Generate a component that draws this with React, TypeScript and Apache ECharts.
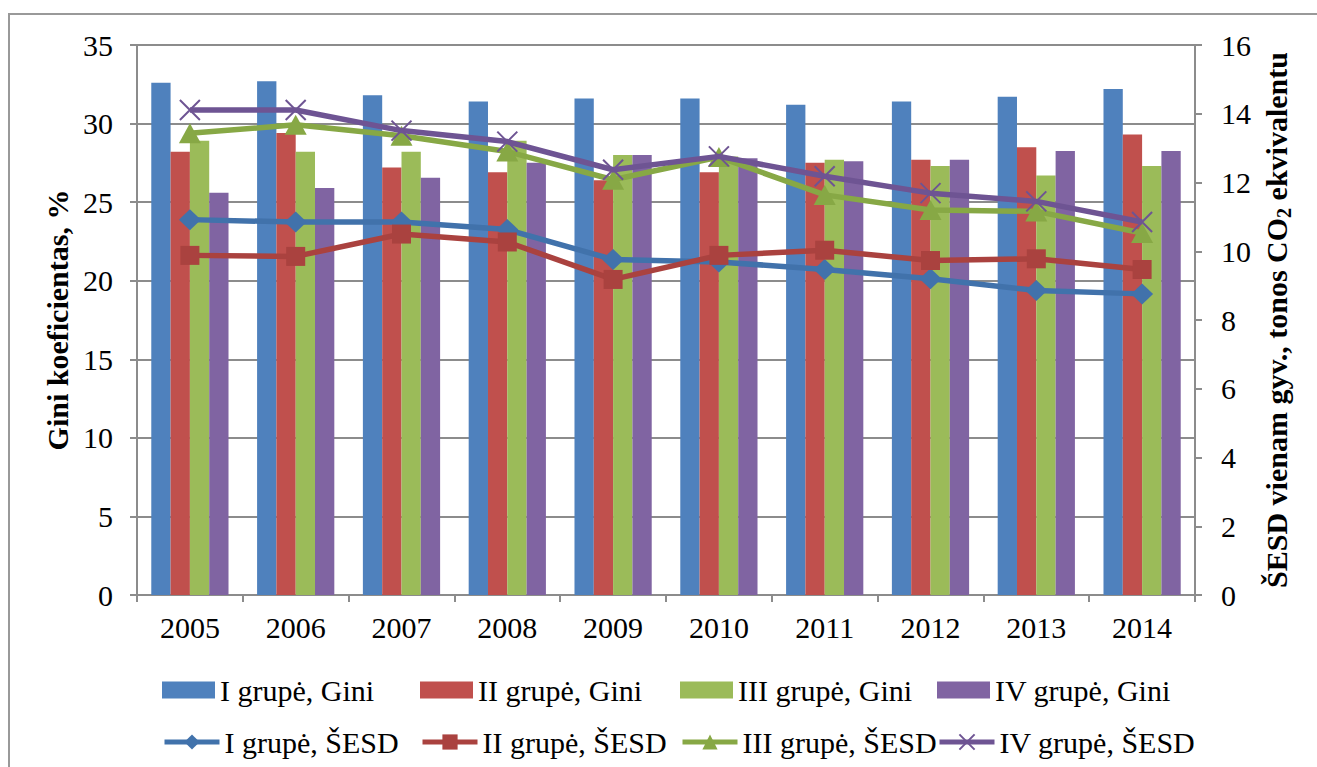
import React, { useEffect, useRef } from "react";
import * as echarts from "echarts";

const years = ["2005", "2006", "2007", "2008", "2009", "2010", "2011", "2012", "2013", "2014"];
const gini1 = [32.6, 32.7, 31.8, 31.4, 31.6, 31.6, 31.2, 31.4, 31.7, 32.2];
const gini2 = [28.2, 29.4, 27.2, 26.9, 26.4, 26.9, 27.5, 27.7, 28.5, 29.3];
const gini3 = [28.9, 28.2, 28.2, 28.9, 28.0, 27.9, 27.7, 27.3, 26.7, 27.3];
const gini4 = [25.6, 25.9, 26.55, 27.5, 28.0, 27.8, 27.6, 27.7, 28.25, 28.25];
const sesd1 = [10.92, 10.85, 10.85, 10.63, 9.76, 9.69, 9.47, 9.2, 8.86, 8.76];
const sesd2 = [9.88, 9.85, 10.5, 10.27, 9.18, 9.88, 10.03, 9.73, 9.78, 9.47];
const sesd3 = [13.43, 13.68, 13.36, 12.9, 12.08, 12.74, 11.64, 11.2, 11.16, 10.53];
const sesd4 = [14.11, 14.11, 13.51, 13.19, 12.37, 12.76, 12.18, 11.69, 11.45, 10.85];

const barNames = ["I grupė, Gini", "II grupė, Gini", "III grupė, Gini", "IV grupė, Gini"];
const lineNames = ["I grupė, ŠESD", "II grupė, ŠESD", "III grupė, ŠESD", "IV grupė, ŠESD"];

const FONT = "'Liberation Serif', 'Times New Roman', serif";
const GRAY = "#8c8c8c";

export default function App() {
  const ref = useRef<HTMLDivElement>(null);
  useEffect(() => {
    if (!ref.current) return;
    const chart = echarts.init(ref.current, null, { renderer: "svg" });
    const barColors = ["#4F81BD", "#C0504D", "#9BBB59", "#8064A2"];
    const lineColors = ["#4172AB", "#AA423F", "#87A845", "#6E5493"];
    const ginis = [gini1, gini2, gini3, gini4];
    const sesds = [sesd1, sesd2, sesd3, sesd4];
    const symbols = ["diamond", "rect", "triangle", "path://M0,0L10,10M10,0L0,10"];
    const symSizes: any[] = [[22, 21], 19, [22, 20], 20];
    const legendLeft = [162, 420, 680, 937];

    const series: any[] = [];
    ginis.forEach((d, i) => {
      series.push({
        name: barNames[i],
        type: "bar",
        yAxisIndex: 0,
        data: d,
        barGap: "0%",
        barCategoryGap: "27%",
        itemStyle: { color: barColors[i] },
      });
    });
    sesds.forEach((d, i) => {
      series.push({
        name: lineNames[i],
        type: "line",
        yAxisIndex: 1,
        data: d,
        z: 3 + i,
        symbol: symbols[i],
        symbolSize: symSizes[i],
        lineStyle: { color: lineColors[i], width: 5.5 },
        itemStyle:
          i === 3
            ? { color: lineColors[i], borderColor: lineColors[i], borderWidth: 2 }
            : { color: lineColors[i] },
      });
    });

    const legends: any[] = [];
    barNames.forEach((n, i) => {
      legends.push({
        data: [n],
        left: legendLeft[i],
        top: 675,
        padding: 0,
        itemWidth: 53,
        itemHeight: 17,
        icon: "rect",
        textStyle: { fontFamily: FONT, fontSize: 30, color: "#000" },
      });
    });
    lineNames.forEach((n, i) => {
      legends.push({
        data: [n],
        left: legendLeft[i],
        top: 727,
        padding: 0,
        itemWidth: 55,
        itemHeight: 19,
        lineStyle: { width: 5 },
        textStyle: { fontFamily: FONT, fontSize: 30, color: "#000" },
      });
    });

    chart.setOption({
      animation: false,
      backgroundColor: "#fff",
      textStyle: { fontFamily: FONT },
      graphic: [
        {
          type: "rect",
          shape: { x: 9, y: 14, width: 1400, height: 800 },
          style: { fill: "none", stroke: "#999", lineWidth: 2 },
          z: -10,
        },
      ],
      legend: legends,
      grid: { left: 137, right: 122, top: 45, bottom: 172 },
      xAxis: {
        type: "category",
        data: years,
        axisLine: { lineStyle: { color: GRAY, width: 2 } },
        axisTick: { show: true, length: 7, lineStyle: { color: GRAY, width: 2 } },
        axisLabel: { fontFamily: FONT, fontSize: 30, color: "#000", margin: 17 },
      },
      yAxis: [
        {
          type: "value",
          min: 0,
          max: 35,
          interval: 5,
          name: "Gini koeficientas, %",
          nameLocation: "middle",
          nameRotate: 90,
          nameGap: 58,
          nameTextStyle: { fontFamily: FONT, fontSize: 30, fontWeight: "bold", color: "#000" },
          axisLine: { show: true, lineStyle: { color: GRAY, width: 2 } },
          axisTick: { show: true, length: 7, lineStyle: { color: GRAY, width: 2 } },
          splitLine: { show: true, lineStyle: { color: GRAY, width: 2 } },
          axisLabel: { fontFamily: FONT, fontSize: 30, color: "#000", margin: 24 },
        },
        {
          type: "value",
          min: 0,
          max: 16,
          interval: 2,
          position: "right",
          name: "{b|ŠESD vienam gyv., tonos CO}{s|2}{b| ekvivalentu}",
          nameLocation: "middle",
          nameRotate: 90,
          nameGap: 64,
          nameTextStyle: {
            fontFamily: FONT,
            fontSize: 30,
            fontWeight: "bold",
            color: "#000",
            rich: {
              b: { fontFamily: FONT, fontSize: 30, fontWeight: "bold", color: "#000", lineHeight: 34 },
              s: {
                fontFamily: FONT,
                fontSize: 20,
                fontWeight: "bold",
                color: "#000",
                lineHeight: 34,
                verticalAlign: "bottom",
                padding: [12, 0, 0, 0],
              },
            },
          },
          axisLine: { show: true, lineStyle: { color: GRAY, width: 2 } },
          axisTick: { show: true, length: 7, lineStyle: { color: GRAY, width: 2 } },
          splitLine: { show: false },
          axisLabel: { fontFamily: FONT, fontSize: 30, color: "#000", margin: 26 },
        },
      ],
      series,
    });
    return () => chart.dispose();
  }, []);
  return (
    <div
      ref={ref}
      style={{ position: "absolute", left: 0, top: 0, width: 1317, height: 767 }}
    />
  );
}
